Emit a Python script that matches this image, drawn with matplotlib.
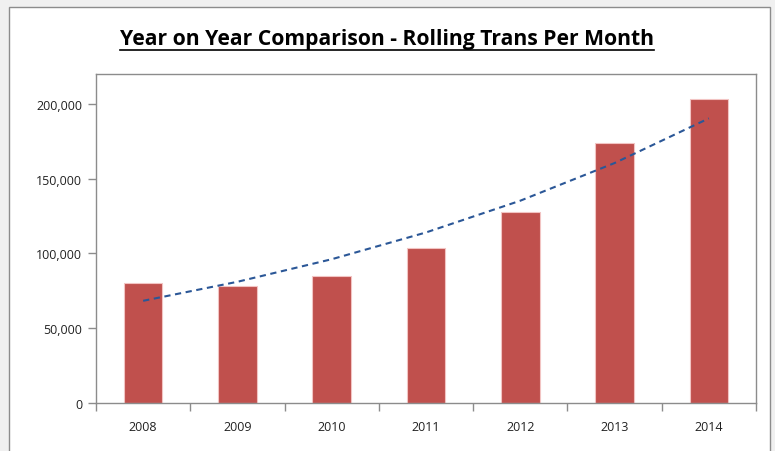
import numpy as np
import matplotlib
matplotlib.use("Agg")
import matplotlib.pyplot as plt
from matplotlib.patches import Rectangle

years = ["2008", "2009", "2010", "2011", "2012", "2013", "2014"]
values = [80500, 78500, 84700, 103800, 127800, 173800, 203300]
yticks = [0, 50000, 100000, 150000, 200000]
ytick_labels = ["0", "50,000", "100,000", "150,000", "200,000"]
title = "Year on Year Comparison - Rolling Trans Per Month"

W, H = 775, 452
fig = plt.figure(figsize=(W / 100, H / 100), dpi=100)
fig.patch.set_facecolor("#F0F0F0")

# chart area (white with border)
fig.add_artist(Rectangle((9 / W, -0.05), (770 - 9) / W, 1.05 - 8 / H,
                         transform=fig.transFigure, facecolor="white",
                         edgecolor="#8C8C8C", linewidth=1.0, zorder=-5))

ax = fig.add_axes([96 / W, 1 - 404 / H, (756 - 96) / W, (404 - 75) / H])
ax.set_facecolor("white")
x = np.arange(len(years))
ax.bar(x, values, width=0.41, color="#C0504D", edgecolor="#F2C4C3", linewidth=0.8, zorder=2)

# exponential trendline (least-squares fit on log values, as Excel does)
b, a = np.polyfit(x, np.log(values), 1)
ax.plot(x, np.exp(a + b * x), color="#2B5797", linestyle=(0, (3, 2.2)), linewidth=1.5, zorder=3)

ax.set_xlim(-0.5, len(years) - 0.5)
ax.set_ylim(0, 220000)
ax.set_yticks(yticks)
ax.set_yticklabels(ytick_labels)
ax.set_xticks(x)
ax.set_xticklabels(years)
ax.set_xticks(np.arange(-0.5, len(years)), minor=True)
ax.tick_params(axis="x", which="major", length=0, pad=12)
ax.tick_params(axis="x", which="minor", length=6, width=1, color="#8C8C8C", direction="out")
ax.tick_params(axis="y", length=6, width=1, color="#8C8C8C", direction="out", pad=4)
for lab in ax.get_xticklabels() + ax.get_yticklabels():
    lab.set_fontfamily("Open Sans")
    lab.set_fontsize(9)
    lab.set_color("#222222")
for s in ax.spines.values():
    s.set_color("#8C8C8C")
    s.set_linewidth(1.0)

t = fig.text(387 / W, 1 - 40 / H, title, ha="center", va="center",
             fontsize=15.2, fontweight="bold", family="Open Sans", color="black")
fig.canvas.draw()
bb = t.get_window_extent()
# underline
fig.add_artist(plt.Line2D([bb.x0 / W, bb.x1 / W], [1 - 51 / H, 1 - 51 / H],
                          transform=fig.transFigure, color="black", linewidth=1.2))

fig.savefig("out.png", dpi=100, facecolor=fig.get_facecolor())
